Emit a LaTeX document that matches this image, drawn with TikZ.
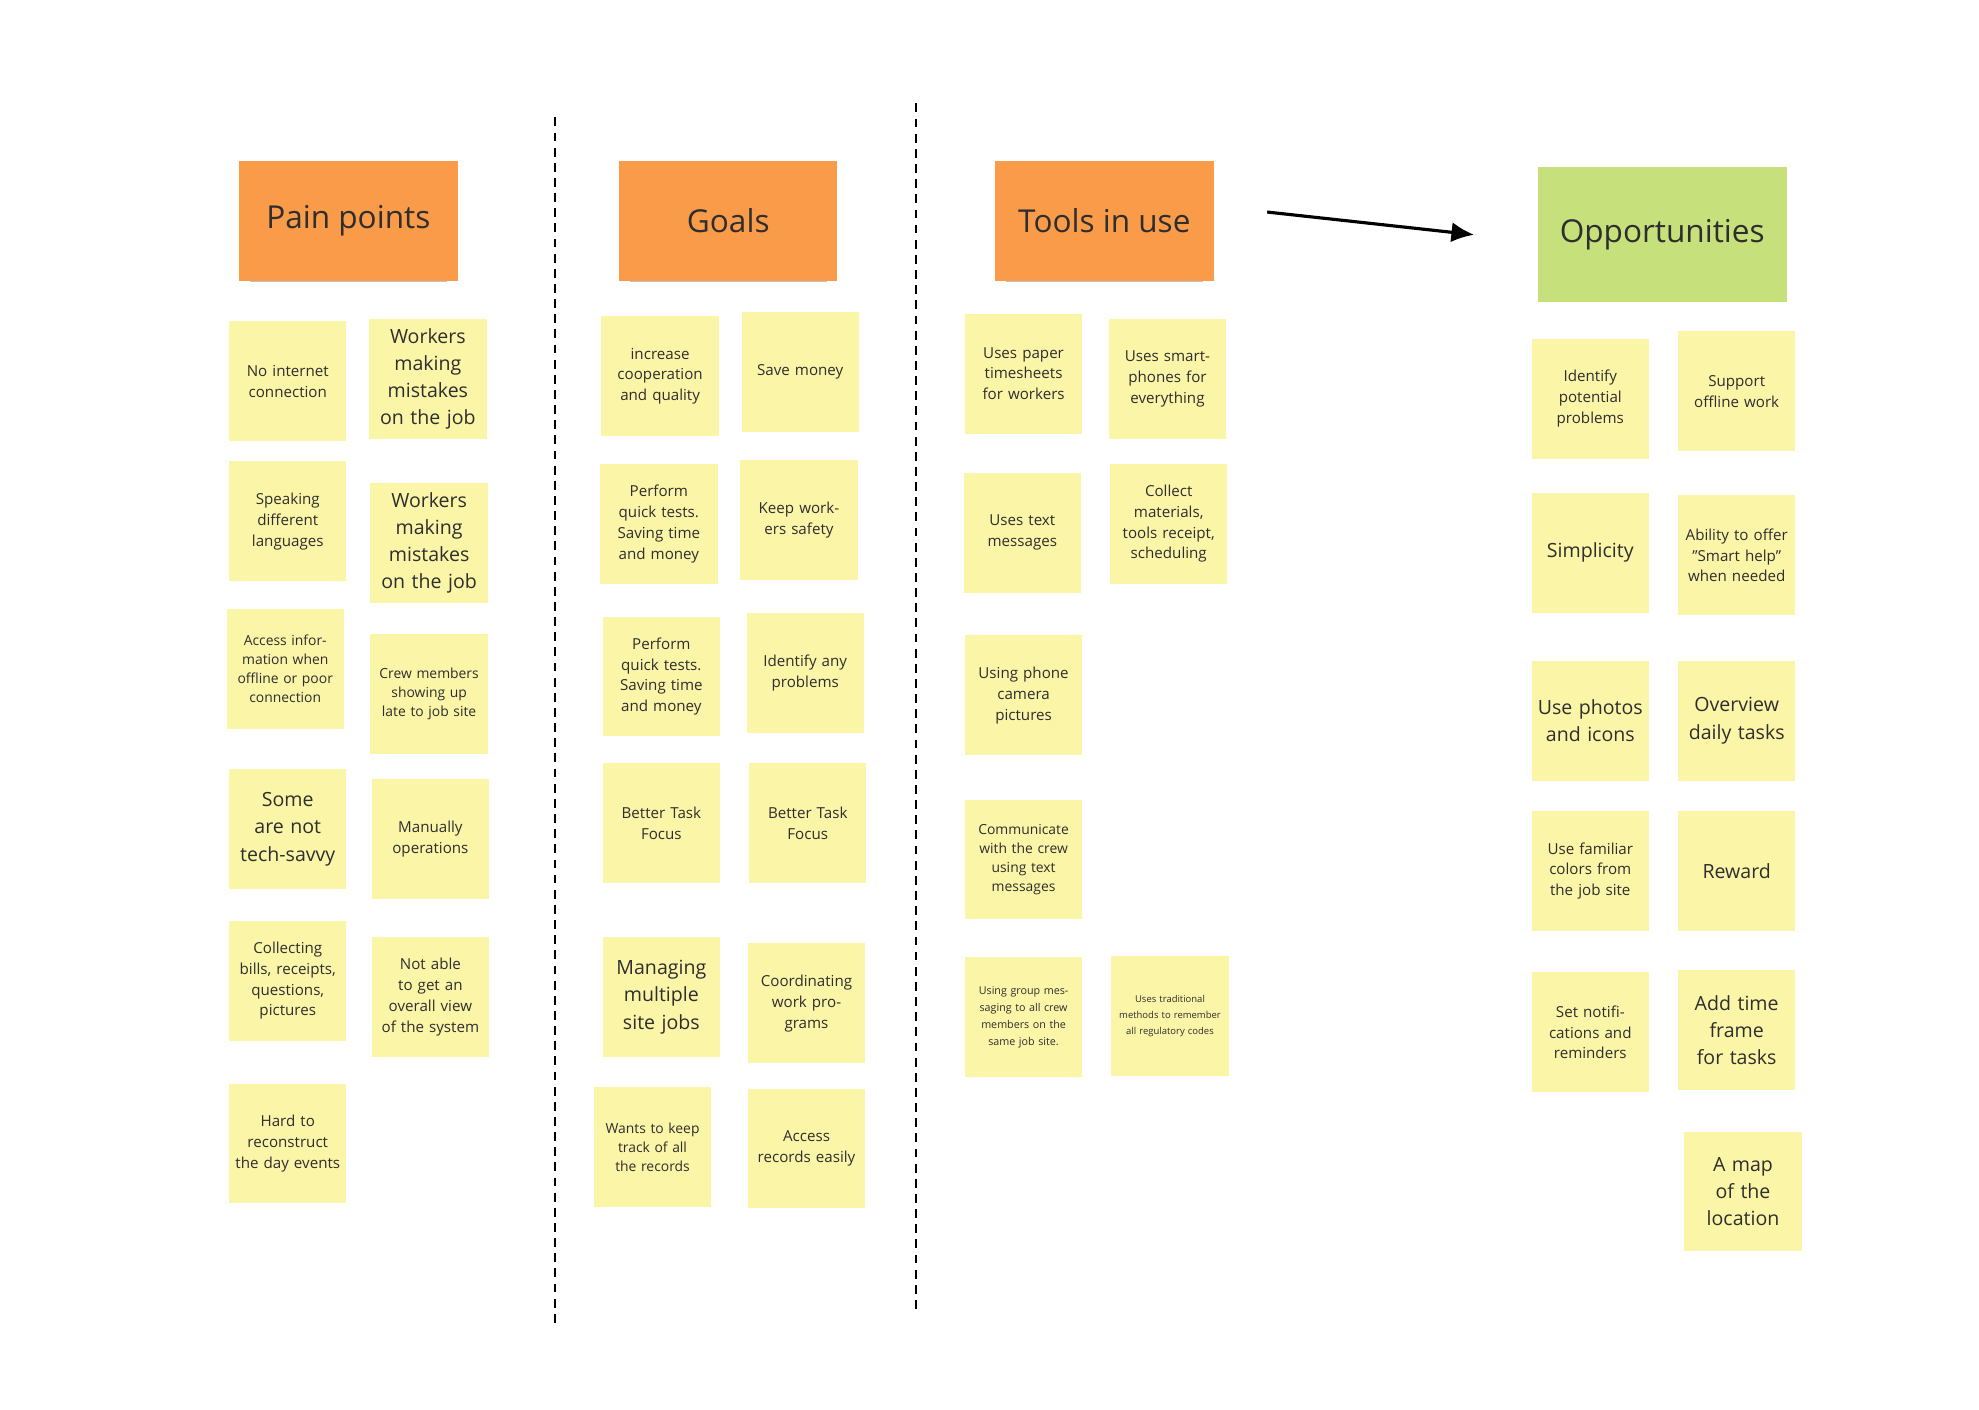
\documentclass[tikz,border=0pt]{standalone}
\usepackage{fontspec}
\setmainfont{Open Sans}
\usetikzlibrary{arrows.meta,shadows}

\definecolor{stickyyellow}{HTML}{FBF5A8}
\definecolor{stickyorange}{HTML}{F99B48}
\definecolor{stickygreen}{HTML}{C6E07C}
\definecolor{inktext}{HTML}{2E2E2E}

\tikzset{
  note/.style={fill=stickyyellow, text=inktext, minimum width=93pt, minimum height=95pt,
    text width=84pt, align=center, inner sep=2pt, font=\fontsize{12}{16.5}\selectfont,
    drop shadow={shadow xshift=0pt, shadow yshift=-5pt, shadow scale=0.9, opacity=.35, fill=black!70}},
  big/.style={font=\fontsize{15.5}{21.5}\selectfont},
  little/.style={font=\fontsize{11}{15}\selectfont},
  tiny/.style={font=\fontsize{8.5}{13.5}\selectfont},
  header/.style={fill=stickyorange, text=inktext, minimum width=173pt, minimum height=95pt,
    font=\fontsize{25}{30}\selectfont,
    drop shadow={shadow xshift=0pt, shadow yshift=-6pt, shadow scale=0.9, opacity=.35, fill=black!70}},
  divider/.style={dashed, line width=1.4pt, dash pattern=on 7pt off 5pt}
}

\begin{document}
\begin{tikzpicture}[x=1pt, y=-1pt]
\useasboundingbox (0,0) rectangle (1568,1117);

\node[header] (pain) at (276,175) {Pain points};
\node[header] (goals) at (577,175) {Goals};
\node[header] (tools) at (875,175) {Tools in use};
\node[header, fill=stickygreen, minimum width=197pt, minimum height=107pt] (opps) at (1317,186) {Opportunities};

\draw[-{Latex[length=18pt,width=16pt]}, line width=2.5pt] (1004,168) -- (opps.west -| 1168,170);

\coordinate (d1top) at (440,93);
\coordinate (d1bot) at (440,1048);
\coordinate (d2top) at (726,82);
\coordinate (d2bot) at (726,1037);
\draw[divider] (d1top) -- (d1bot);
\draw[divider] (d2top) -- (d2bot);

% pain points
\node[note] (p1) at (228,302) {No internet connection};
\node[note, big] (p2) at (339,300) {Workers making mistakes on the job};
\node[note] (p3) at (228,413) {Speaking different languages};
\node[note, big] (p4) at (340,430) {Workers making mistakes on the job};
\node[note, little] (p5) at (226,530) {Access information when offline or poor connection};
\node[note, little] (p6) at (340,550) {Crew members showing up late to job site};
\node[note, big] (p7) at (228,657) {Some are not tech-savvy};
\node[note] (p8) at (341,665) {Manually operations};
\node[note] (p9) at (228,777) {Collecting bills, receipts, questions, pictures};
\node[note] (p10) at (341,790) {Not able to get an overall view of the system};
\node[note] (p11) at (228,906) {Hard to reconstruct the day events};

% goals
\node[note] (g1) at (523,298) {increase cooperation and quality};
\node[note] (g2) at (634,295) {Save money};
\node[note] (g3) at (522,415) {Perform quick tests. Saving time and money};
\node[note] (g4) at (633,412) {Keep workers safety};
\node[note] (g5) at (524,536) {Perform quick tests. Saving time and money};
\node[note] (g6) at (638,533) {Identify any problems};
\node[note] (g7) at (524,652) {Better Task Focus};
\node[note] (g8) at (640,652) {Better Task Focus};
\node[note, big] (g9) at (524,790) {Managing multiple site jobs};
\node[note] (g10) at (639,795) {Coordinating work programs};
\node[note, little] (g11) at (517,909) {Wants to keep track of all the records};
\node[note] (g12) at (639,910) {Access records easily};

% tools in use
\node[note] (t1) at (811,296) {Uses paper timesheets for workers};
\node[note] (t2) at (925,300) {Uses smartphones for everything};
\node[note] (t3) at (810,422) {Uses text messages};
\node[note] (t4) at (926,415) {Collect materials, tools receipt, scheduling};
\node[note] (t5) at (811,551) {Using phone camera pictures};
\node[note, little] (t6) at (811,681) {Communicate with the crew using text messages};
\node[note, tiny] (t7) at (811,806) {Using group messaging to all crew members on the same job site.};
\node[note, tiny, font=\fontsize{7.5}{12.5}\selectfont] (t8) at (927,805) {Uses traditional methods to remember all regulatory codes};

% opportunities
\node[note] (o1) at (1260,316) {Identify potential problems};
\node[note] (o2) at (1376,310) {Support offline work};
\node[note, big] (o3) at (1260,438) {Simplicity};
\node[note] (o4) at (1376,440) {Ability to offer "Smart help" when needed};
\node[note, big] (o5) at (1260,571) {Use photos and icons};
\node[note, big] (o6) at (1376,571) {Overview daily tasks};
\node[note] (o7) at (1260,690) {Use familiar colors from the job site};
\node[note, big] (o8) at (1376,690) {Reward};
\node[note] (o9) at (1260,818) {Set notifications and reminders};
\node[note, big] (o10) at (1376,816) {Add time frame for tasks};
\node[note, big] (o11) at (1381,944) {A map of the location};

\end{tikzpicture}
\end{document}
